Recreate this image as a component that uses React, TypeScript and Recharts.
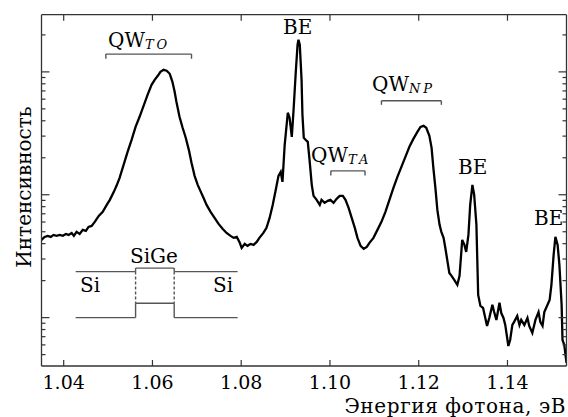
import { LineChart, Line, XAxis, YAxis, ReferenceLine } from "recharts";

// photoluminescence spectrum, photon energy (eV) vs intensity (arb. units, log)
const energy = [
  1.0350, 1.0357, 1.0364, 1.0371, 1.0377, 1.0384, 1.0391, 1.0398, 1.0405, 1.0411,
  1.0418, 1.0423, 1.0429, 1.0436, 1.0443, 1.0450, 1.0456, 1.0463, 1.0470, 1.0479,
  1.0488, 1.0497, 1.0504, 1.0513, 1.0519, 1.0526, 1.0535, 1.0544, 1.0553, 1.0562,
  1.0571, 1.0580, 1.0589, 1.0598, 1.0605, 1.0612, 1.0618, 1.0625, 1.0632, 1.0639,
  1.0645, 1.0650, 1.0654, 1.0661, 1.0668, 1.0675, 1.0682, 1.0688, 1.0695, 1.0702,
  1.0709, 1.0715, 1.0722, 1.0731, 1.0740, 1.0749, 1.0758, 1.0767, 1.0776, 1.0783,
  1.0790, 1.0796, 1.0801, 1.0808, 1.0814, 1.0821, 1.0828, 1.0835, 1.0841, 1.0850,
  1.0857, 1.0864, 1.0871, 1.0877, 1.0884, 1.0889, 1.0893, 1.0898, 1.0905, 1.0909,
  1.0914, 1.0918, 1.0923, 1.0927, 1.0929, 1.0932, 1.0936, 1.0938, 1.0941, 1.0945,
  1.0950, 1.0954, 1.0959, 1.0963, 1.0970, 1.0977, 1.0981, 1.0988, 1.0995, 1.1001,
  1.1008, 1.1015, 1.1022, 1.1029, 1.1035, 1.1042, 1.1049, 1.1056, 1.1062, 1.1069,
  1.1076, 1.1083, 1.1089, 1.1098, 1.1107, 1.1116, 1.1125, 1.1134, 1.1143, 1.1152,
  1.1161, 1.1170, 1.1179, 1.1188, 1.1197, 1.1204, 1.1211, 1.1217, 1.1224, 1.1229,
  1.1233, 1.1238, 1.1242, 1.1247, 1.1251, 1.1256, 1.1260, 1.1265, 1.1269, 1.1274,
  1.1280, 1.1287, 1.1292, 1.1298, 1.1303, 1.1307, 1.1312, 1.1316, 1.1321, 1.1325,
  1.1330, 1.1332, 1.1334, 1.1339, 1.1345, 1.1350, 1.1354, 1.1359, 1.1366, 1.1370,
  1.1375, 1.1382, 1.1386, 1.1391, 1.1395, 1.1402, 1.1406, 1.1411, 1.1415, 1.1422,
  1.1427, 1.1431, 1.1438, 1.1445, 1.1449, 1.1456, 1.1463, 1.1470, 1.1474, 1.1479,
  1.1483, 1.1488, 1.1495, 1.1499, 1.1504, 1.1508, 1.1513, 1.1517, 1.1522, 1.1524,
  1.1528, 1.1533,
];

const intensity = [
  4.29, 4.54, 4.63, 4.54, 4.71, 4.63, 4.71, 4.63, 4.80, 4.71,
  4.89, 4.63, 4.99, 4.80, 5.18, 5.08, 5.48, 5.58, 6.02, 6.73,
  7.26, 8.27, 9.09, 10.56, 11.82, 13.73, 17.52, 22.36, 28.0, 35.7,
  43.1, 52.9, 65.1, 78.5, 86.2, 92.9, 100.2, 104.0, 102.1, 96.5,
  83.1, 68.9, 57.1, 43.1, 35.1, 29.1, 23.2, 18.2, 14.25, 12.04,
  10.56, 9.44, 8.27, 7.26, 6.48, 5.79, 5.28, 4.89, 4.63, 4.46,
  4.54, 4.13, 3.69, 3.98, 3.84, 3.98, 3.91, 4.13, 4.46, 4.89,
  5.38, 6.48, 8.27, 10.56, 14.25, 15.37, 12.74, 25.5, 46.5, 42.4,
  29.6, 49.1, 100.2, 166.3, 182.6, 166.3, 86.2, 44.7, 29.1, 28.0,
  26.97, 19.24, 12.04, 9.79, 9.09, 8.27, 9.09, 8.59, 8.92, 9.09,
  8.59, 9.26, 9.79, 9.79, 9.09, 7.82, 6.48, 5.38, 4.46, 3.84,
  3.63, 3.76, 4.06, 4.46, 5.18, 6.02, 7.26, 9.09, 11.38, 14.0,
  16.88, 20.35, 24.55, 28.5, 32.5, 35.7, 36.4, 35.1, 30.2, 24.1,
  16.56, 10.96, 7.53, 5.69, 4.99, 4.46, 3.69, 2.84, 2.31, 2.19,
  2.03, 1.85, 2.19, 4.29, 3.91, 3.43, 4.71, 8.27, 12.04, 9.98,
  5.69, 2.95, 1.53, 1.245, 1.20, 0.994, 0.856, 0.994, 1.27, 1.11,
  0.958, 1.32, 1.09, 0.994, 0.872, 0.588, 0.658, 0.872, 0.923, 1.03,
  0.872, 0.958, 0.872, 0.994, 0.856, 0.75, 0.958, 1.11, 0.923, 0.856,
  1.11, 1.22, 1.39, 1.85, 3.24, 4.54, 3.91, 2.69, 1.27, 0.658,
  0.60, 0.428,
];

const energyTicks = [1.04, 1.06, 1.08, 1.1, 1.12, 1.14];
const energyTickLabels = ["1.04", "1.06", "1.08", "1.10", "1.12", "1.14"];
const intensityTicks = [
  0.5, 0.6, 0.7, 0.8, 0.9, 1, 2, 3, 4, 5, 6, 7, 8, 9,
  10, 20, 30, 40, 50, 60, 70, 80, 90, 100, 200,
];
const decadeTicks = [1, 10, 100];

// bracket spans [from, to, level, tip] in data units
const bracketQwTO = [1.0495, 1.0688, 139.6, 127.9];
const bracketQwTA = [1.1002, 1.1079, 15.65, 14.33];
const bracketQwNP = [1.1116, 1.1251, 58.2, 53.97];

// band-edge sketch of the Si/SiGe/Si well
const bandEdges = [1.0427, 1.0562, 1.0649, 1.0792];
const conductionLevels = [2.37, 2.53];
const valenceLevels = [1.0, 1.31];

const spectrum = energy.map((e, i) => ({ energy: e, intensity: intensity[i] }));

const FRAME = "#333";
const SKETCH = "#555";
const FONT = "'DejaVu Serif', serif";

const W = 568;
const H = 417;

type Seg = [number, number, number, number, boolean?];

const bracketSegs = (b: number[]): Seg[] => [
  [b[0], b[2], b[1], b[2]],
  [b[0], b[2], b[0], b[3]],
  [b[1], b[2], b[1], b[3]],
];

const stepSegs = (lo: number, hi: number): Seg[] => {
  const [a, b, c, d] = bandEdges;
  return [
    [a, lo, b, lo],
    [b, lo, b, hi],
    [b, hi, c, hi],
    [c, hi, c, lo],
    [c, lo, d, lo],
  ];
};

const sketchSegs: Seg[] = [
  ...bracketSegs(bracketQwTO),
  ...bracketSegs(bracketQwTA),
  ...bracketSegs(bracketQwNP),
  ...stepSegs(conductionLevels[0], conductionLevels[1]),
  ...stepSegs(valenceLevels[0], valenceLevels[1]),
  [bandEdges[1], conductionLevels[0], bandEdges[1], valenceLevels[1], true],
  [bandEdges[2], conductionLevels[0], bandEdges[2], valenceLevels[1], true],
];

const BottomTick = (props: any) => {
  const { x, y, payload } = props;
  const i = energyTicks.indexOf(payload.value);
  return (
    <g>
      <line x1={x} y1={y} x2={x} y2={y - 6} stroke={FRAME} strokeWidth={1.2} />
      <text x={x} y={y + 23} textAnchor="middle" fontFamily={FONT} fontSize={19} fill="#000">
        {energyTickLabels[i]}
      </text>
    </g>
  );
};

const TopTick = (props: any) => {
  const { x, y } = props;
  return <line x1={x} y1={y} x2={x} y2={y + 6} stroke={FRAME} strokeWidth={1.2} />;
};

const LeftTick = (props: any) => {
  const { x, y, payload } = props;
  const len = decadeTicks.includes(payload.value) ? 8 : 4;
  return <line x1={x} y1={y} x2={x + len} y2={y} stroke={FRAME} strokeWidth={1.2} />;
};

const RightTick = (props: any) => {
  const { x, y, payload } = props;
  const len = decadeTicks.includes(payload.value) ? 8 : 4;
  return <line x1={x} y1={y} x2={x - len} y2={y} stroke={FRAME} strokeWidth={1.2} />;
};

const Label = ({ x, y, main, sub }: { x: number; y: number; main: string; sub?: string }) => (
  <text x={x} y={y} fontFamily={FONT} fontSize={20} fill="#000">
    {main}
    {sub && (
      <tspan fontSize={13} fontStyle="italic" dy={2} letterSpacing={3}>
        {sub}
      </tspan>
    )}
  </text>
);

export default function App() {
  const xDomain = [1.035, 1.1533];
  const yDomain = [0.404, 292];
  return (
    <div style={{ position: "absolute", left: 0, top: 0, width: W, height: H, background: "#fff" }}>
      <LineChart
        width={W}
        height={H}
        data={spectrum}
        margin={{ top: 13.7, right: 0.5, bottom: 50, left: 40.5 }}
      >
        <XAxis
          dataKey="energy"
          type="number"
          domain={xDomain}
          allowDataOverflow
          ticks={energyTicks}
          interval={0}
          height={1}
          tickSize={0}
          tickMargin={0}
          tickLine={false}
          tick={BottomTick}
          axisLine={{ stroke: FRAME, strokeWidth: 1.3 }}
        />
        <XAxis
          xAxisId="top"
          orientation="top"
          dataKey="energy"
          type="number"
          domain={xDomain}
          allowDataOverflow
          ticks={energyTicks}
          interval={0}
          height={1}
          tickSize={0}
          tickMargin={0}
          tickLine={false}
          tick={TopTick}
          axisLine={{ stroke: FRAME, strokeWidth: 1.3 }}
        />
        <YAxis
          scale="log"
          type="number"
          domain={yDomain}
          allowDataOverflow
          ticks={intensityTicks}
          interval={0}
          width={1}
          tickSize={0}
          tickMargin={0}
          tickLine={false}
          tick={LeftTick}
          axisLine={{ stroke: FRAME, strokeWidth: 1.3 }}
        />
        <YAxis
          yAxisId="right"
          orientation="right"
          scale="log"
          type="number"
          domain={yDomain}
          allowDataOverflow
          ticks={intensityTicks}
          interval={0}
          width={1}
          tickSize={0}
          tickMargin={0}
          tickLine={false}
          tick={RightTick}
          axisLine={{ stroke: FRAME, strokeWidth: 1.3 }}
        />
        {sketchSegs.map((s, i) => (
          <ReferenceLine
            key={i}
            segment={[
              { x: s[0], y: s[1] },
              { x: s[2], y: s[3] },
            ]}
            stroke={SKETCH}
            strokeWidth={1.4}
            strokeDasharray={s[4] ? "3 2" : undefined}
          />
        ))}
        <Line
          dataKey="intensity"
          type="linear"
          stroke="#000"
          strokeWidth={2.3}
          dot={false}
          isAnimationActive={false}
        />
      </LineChart>
      <svg
        width={W}
        height={H}
        style={{ position: "absolute", left: 0, top: 0, pointerEvents: "none" }}
      >
        <Label x={108} y={47} main="QW" sub="TO" />
        <Label x={283} y={34} main="BE" />
        <Label x={311} y={162} main="QW" sub="TA" />
        <Label x={372} y={91} main="QW" sub="NP" />
        <Label x={458} y={174} main="BE" />
        <Label x={534} y={225} main="BE" />
        <Label x={130} y={263} main="SiGe" />
        <Label x={80} y={292} main="Si" />
        <Label x={213} y={292} main="Si" />
        <text
          transform="translate(31, 187) rotate(-90)"
          textAnchor="middle"
          fontFamily={FONT}
          fontSize={20}
          fill="#000"
        >
          Интенсивность
        </text>
        <text x={566} y={413} textAnchor="end" fontFamily={FONT} fontSize={20} letterSpacing={0.6} fill="#000">
          Энергия фотона, эВ
        </text>
      </svg>
    </div>
  );
}
